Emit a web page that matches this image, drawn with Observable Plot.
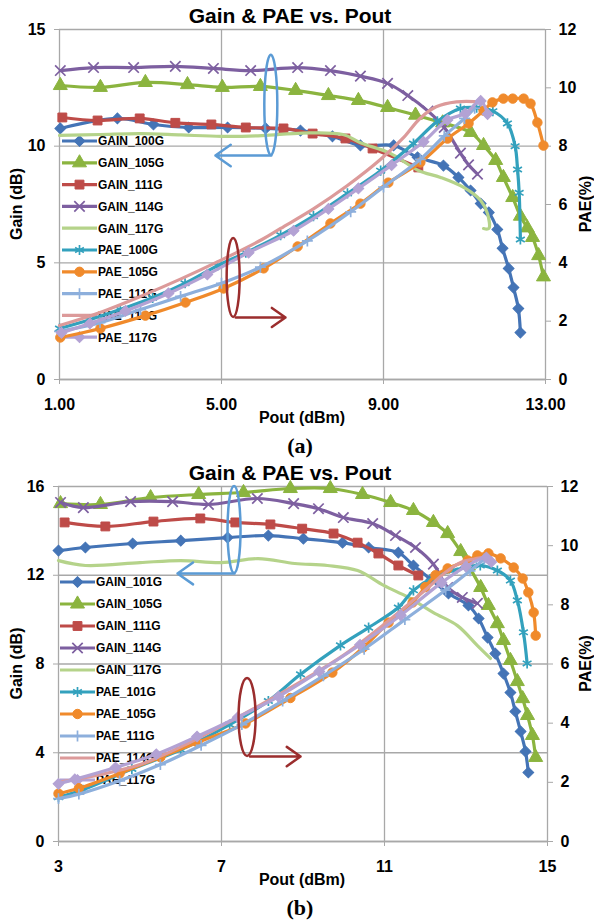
<!DOCTYPE html>
<html><head><meta charset="utf-8">
<script src="https://cdn.jsdelivr.net/npm/d3@7"></script>
<script src="https://cdn.jsdelivr.net/npm/@observablehq/plot@0.6"></script>
<style>
body{margin:0;background:#fff;}
#wrap{position:relative;width:594px;height:924px;}
#wrap svg{display:block;}
</style></head><body><div id="wrap"></div>
<script>
// ---------- Panel (a) data: [Pout dBm, value] ----------
const A_GAIN_100G = [[1.02,10.76],[2.43,11.19],[3.32,10.93],[4.19,10.8],[5.15,10.8],[6.09,10.76],[6.95,10.67],[7.74,10.42],[8.43,10.03],[9.25,10.03],[9.84,9.52],[10.48,9.17],[10.85,8.66],[11.15,8.1],[11.4,7.54],[11.6,7.16],[11.81,6.43],[11.94,5.62],[12.09,4.76],[12.21,3.94],[12.33,3.04],[12.38,2.01]];
const A_GAIN_105G = [[1.02,12.6],[2.01,12.52],[3.12,12.73],[4.16,12.64],[5.02,12.52],[5.96,12.56],[6.83,12.39],[7.64,12.17],[8.38,11.96],[9.1,11.66],[9.79,11.33],[10.46,11.0],[11.15,10.59],[11.47,10.03],[11.77,9.39],[11.96,8.66],[12.19,7.8],[12.38,7.0],[12.55,6.5],[12.68,6.09],[12.83,5.31],[12.95,4.4]];
const A_GAIN_111G = [[1.07,11.23],[1.94,11.1],[2.98,11.19],[3.86,11.0],[4.75,10.93],[5.6,10.8],[6.53,10.76],[7.25,10.54],[8.06,10.33],[8.73,9.9],[9.86,9.09]];
const A_GAIN_114G = [[1.02,13.24],[1.84,13.37],[2.83,13.37],[3.86,13.42],[4.8,13.33],[5.72,13.24],[6.88,13.37],[7.69,13.24],[8.43,13.0],[9.1,12.69],[9.6,12.17],[10.1,11.5],[10.5,10.8],[10.9,9.7],[11.1,9.2],[11.32,8.8]];
const A_GAIN_117G = [[1.0,10.46],[2.0,10.5],[3.0,10.54],[4.0,10.48],[5.0,10.42],[6.0,10.45],[7.0,10.56],[8.0,10.5],[8.43,10.15],[9.17,9.69],[9.86,8.96],[10.41,8.66],[10.98,8.23],[11.4,7.67],[11.57,7.1],[11.6,6.47],[11.47,6.47]];
const A_PAE_100G = [[1.0,1.75],[1.75,2.05],[2.5,2.4],[3.3,2.8],[4.1,3.3],[4.9,3.9],[5.6,4.35],[6.46,4.95],[7.27,5.6],[8.11,6.38],[8.93,7.16],[9.74,8.09],[10.33,8.85],[10.9,9.29],[11.3,9.32],[11.7,9.2],[12.06,8.78],[12.25,8.0],[12.31,7.2],[12.35,6.4],[12.38,4.8]];
const A_PAE_105G = [[1.02,1.44],[2.01,1.75],[3.12,2.19],[4.11,2.64],[5.05,3.12],[6.04,3.81],[6.88,4.56],[7.69,5.35],[8.43,6.03],[9.12,6.75],[9.91,7.44],[10.58,8.26],[11.1,8.78],[11.47,9.22],[11.69,9.5],[11.96,9.63],[12.19,9.63],[12.46,9.63],[12.63,9.46],[12.8,8.81],[12.95,8.02]];
const A_PAE_111G = [[1.0,1.65],[2.0,1.95],[3.0,2.4],[3.99,2.85],[5.0,3.3],[5.96,3.85],[7.12,4.75],[8.19,5.75],[9.0,6.6],[9.91,7.55],[10.5,8.35],[11.0,8.95],[11.25,9.3]];
const A_PAE_114G = [[1.0,1.85],[2.0,2.3],[3.0,2.85],[4.0,3.45],[5.0,4.1],[6.0,4.8],[6.46,5.18],[7.27,5.85],[8.11,6.65],[8.93,7.55],[9.5,8.3],[9.9,8.95],[10.3,9.35],[10.8,9.52],[11.4,9.52]];
const A_PAE_117G = [[1.05,1.6],[1.75,1.92],[2.63,2.35],[3.69,2.95],[4.65,3.6],[5.67,4.35],[6.78,5.1],[7.64,5.85],[8.38,6.55],[9.2,7.35],[9.99,8.15],[10.58,8.9],[11.02,9.12],[11.4,9.55],[11.57,9.1]];

// ---------- Panel (b) data ----------
const B_GAIN_101G = [[3.0,13.11],[3.66,13.25],[4.82,13.43],[6.0,13.56],[7.15,13.7],[8.15,13.79],[9.01,13.65],[9.97,13.47],[10.61,13.25],[11.34,13.02],[11.71,12.44],[12.15,11.8],[12.57,11.18],[13.06,10.64],[13.31,10.05],[13.53,9.19],[13.72,8.47],[13.92,7.57],[14.09,6.71],[14.21,5.86],[14.34,4.96],[14.46,4.06],[14.53,3.11]];
const B_GAIN_105G = [[3.05,15.23],[4.03,15.19],[5.26,15.5],[6.44,15.64],[7.54,15.73],[8.69,15.91],[9.67,15.91],[10.46,15.64],[11.15,15.28],[11.71,14.92],[12.2,14.38],[12.55,13.88],[12.87,13.07],[13.06,12.44],[13.36,11.45],[13.55,10.64],[13.77,9.82],[13.92,9.06],[14.09,8.16],[14.26,7.21],[14.39,6.44],[14.51,5.68],[14.63,4.78],[14.71,3.79]];
const B_GAIN_111G = [[3.15,14.38],[4.15,14.2],[5.33,14.42],[6.48,14.56],[7.34,14.38],[8.2,14.29],[8.98,14.1],[9.75,13.88],[10.34,13.47],[10.85,12.98],[11.34,12.44],[11.83,11.99]];
const B_GAIN_114G = [[3.05,15.28],[3.61,15.05],[4.77,15.32],[5.8,15.32],[6.68,15.19],[7.88,15.46],[8.77,15.23],[9.38,15.0],[9.99,14.6],[10.71,14.33],[11.27,13.79],[11.76,13.25],[12.2,12.5],[12.55,11.45],[12.91,11.0],[13.28,10.73]];
const B_GAIN_117G = [[3.0,12.66],[3.66,12.44],[5.0,12.57],[6.0,12.66],[7.0,12.57],[7.9,12.75],[8.8,12.53],[9.6,12.44],[10.34,12.21],[10.98,11.54],[11.59,11.0],[12.2,10.32],[12.79,9.73],[13.28,8.83],[13.6,8.25]];
const B_PAE_101G = [[3.0,1.5],[3.6,1.75],[4.8,2.45],[6.0,3.1],[7.2,3.95],[8.15,4.75],[8.94,5.65],[9.92,6.63],[10.61,7.23],[11.34,7.91],[11.71,8.49],[12.2,8.93],[12.69,9.16],[13.35,9.33],[13.77,9.16],[14.09,8.82],[14.26,8.15],[14.41,7.07],[14.5,6.02]];
const B_PAE_105G = [[3.0,1.62],[3.5,1.8],[4.5,2.3],[5.5,2.85],[6.41,3.35],[7.59,3.99],[8.69,4.85],[9.72,5.71],[10.48,6.56],[11.1,7.4],[11.69,8.08],[12.0,8.6],[12.25,9.0],[12.55,9.23],[13.04,9.5],[13.28,9.67],[13.55,9.74],[13.85,9.57],[14.17,9.26],[14.39,8.89],[14.53,8.42],[14.66,7.74],[14.71,6.96]];
const B_PAE_111G = [[3.0,1.45],[3.5,1.6],[4.5,2.05],[5.5,2.6],[6.5,3.25],[7.5,3.95],[8.5,4.75],[9.5,5.6],[10.5,6.5],[11.5,7.5],[12.5,8.5],[13.1,9.15],[13.45,9.55]];
const B_PAE_114G = [[3.0,2.0],[4.0,2.25],[5.0,2.6],[6.0,3.2],[7.0,3.9],[8.0,4.65],[9.0,5.45],[10.0,6.3],[11.0,7.35],[12.0,8.5],[12.5,9.1],[12.87,9.43],[13.2,9.55],[13.55,9.62]];
const B_PAE_117G = [[3.0,1.95],[3.4,2.1],[4.4,2.5],[5.4,2.95],[6.4,3.55],[7.4,4.2],[8.4,4.9],[9.4,5.75],[10.4,6.65],[11.4,7.65],[12.4,8.75],[13.0,9.3],[13.5,9.6],[13.62,9.45]];

// ---------- ticks / labels ----------
const A_X_TICKS = [1, 5, 9, 13];
const A_GAIN_TICKS = [0, 5, 10, 15];
const B_X_TICKS = [3, 7, 11, 15];
const B_GAIN_TICKS = [0, 4, 8, 12, 16];
const PAE_TICKS = [0, 2, 4, 6, 8, 10, 12];
const TITLE = "Gain & PAE vs. Pout";
const X_LABEL = "Pout (dBm)";
const Y_LABEL = "Gain (dB)";
const Y2_LABEL = "PAE(%)";

// series styles
const STYLE = [
  {color:"#4474B6", symbol:"square", rotate:45, r:4.3, filled:true},
  {color:"#8BB43F", symbol:"triangle", r:5.2, filled:true},
  {color:"#BE4B48", symbol:"square", r:5, filled:true},
  {color:"#7D5FA0", symbol:"times", r:4.8, filled:false},
  {color:"#B5D38A", symbol:null},
  {color:"#33A1BD", symbol:"asterisk", r:4.8, filled:false},
  {color:"#F08A2B", symbol:"circle", r:4.7, filled:true},
  {color:"#8DAFDC", symbol:"plus", r:3.6, filled:false},
  {color:"#DC9A9A", symbol:null},
  {color:"#B3A2D4", symbol:"square", rotate:45, r:4.3, filled:true}
];
const SYM = {square:d3.symbolSquare, triangle:d3.symbolTriangle, times:d3.symbolTimes, asterisk:d3.symbolAsterisk, circle:d3.symbolCircle, plus:d3.symbolPlus};
const FONT = "'Liberation Sans', Arial, sans-serif";
const GRID = "#a8a8a8";

function build(p) {
  const k = p.yMax / 12;
  const series = p.data.map((d, i) => ({...STYLE[i], name: p.names[i], data: d, pae: i >= 5}));
  const marks = [
    Plot.gridY(p.yTicks, {stroke: GRID, strokeOpacity: 1, strokeWidth: 1.3}),
    Plot.gridX(p.xTicks.slice(1, -1), {stroke: GRID, strokeOpacity: 1, strokeWidth: 1.3}),
    Plot.ruleX([p.xTicks[0], p.xTicks[p.xTicks.length - 1]], {stroke: GRID, strokeWidth: 1.3}),
    Plot.ruleY([0], {stroke: GRID, strokeWidth: 1.3}),
    Plot.axisY({anchor: "left", ticks: p.yTicks, tickSize: 5, tickPadding: 9, fontSize: 16, fontWeight: "bold", label: null, stroke: GRID}),
    Plot.axisY({anchor: "right", ticks: PAE_TICKS.map(v => v * k), tickFormat: d => String(Math.round(d / k)), tickSize: 5, tickPadding: 8, fontSize: 16, fontWeight: "bold", label: null, stroke: GRID}),
    Plot.axisX({ticks: p.xTicks, tickFormat: p.xFmt, tickSize: 5, tickPadding: 14, fontSize: 16, fontWeight: "bold", label: null, stroke: GRID})
  ];
  series.forEach(s => {
    const f = s.pae ? k : 1;
    const X = d => d[0], Y = d => d[1] * f;
    marks.push(Plot.line(s.data, {x: X, y: Y, stroke: s.color, strokeWidth: 3.2, curve: "catmull-rom"}));
    if (s.symbol) marks.push(Plot.dot(s.data, {x: X, y: Y, symbol: s.symbol, r: s.r, rotate: s.rotate || 0,
      fill: s.filled ? s.color : "none", stroke: s.color, strokeWidth: s.filled ? 1 : 1.7}));
  });
  marks.push(Plot.arrow(p.arrows, {x1: "x1", y1: "y1", x2: "x2", y2: "y2", stroke: "color", strokeWidth: 2.5, headLength: 12, headAngle: 70}));

  const chart = Plot.plot({
    width: 594, height: 462,
    marginTop: p.mt, marginBottom: p.mb, marginLeft: p.ml, marginRight: p.mr,
    x: {domain: [p.xTicks[0], p.xTicks[p.xTicks.length - 1]]},
    y: {domain: [0, p.yMax]},
    color: {type: "identity"},
    style: {fontFamily: FONT, color: "black", background: "white", overflow: "visible"},
    marks
  });
  const svg = d3.select(chart);
  const sx = chart.scale("x"), sy = chart.scale("y");

  // legend (beneath curves)
  const gL = svg.insert("g", 'g[aria-label="line"]').attr("font-family", FONT).attr("text-anchor", "start");
  series.forEach((s, i) => {
    const y = p.legY + i * p.legStep;
    gL.append("line").attr("x1", p.legX).attr("x2", p.legX + 35).attr("y1", y).attr("y2", y)
      .attr("stroke", s.color).attr("stroke-width", 3.2);
    if (s.symbol) gL.append("path").attr("d", d3.symbol(SYM[s.symbol], Math.PI * s.r * s.r)())
      .attr("transform", `translate(${p.legX + 17.5},${y}) rotate(${s.rotate || 0})`)
      .attr("fill", s.filled ? s.color : "none").attr("stroke", s.color).attr("stroke-width", s.filled ? 1 : 1.7);
    gL.append("text").attr("x", p.legX + 36).attr("y", y).attr("dy", "0.36em").attr("text-anchor", "start")
      .attr("font-size", 12).attr("font-weight", "bold").attr("fill", "#000").text(s.name);
  });

  // ellipses
  p.ellipses.forEach(e => {
    const a = sy.apply(e.y1), b = sy.apply(e.y2);
    svg.append("ellipse").attr("cx", sx.apply(e.x)).attr("cy", (a + b) / 2).attr("rx", e.rx).attr("ry", Math.abs(a - b) / 2)
      .attr("fill", "none").attr("stroke", e.color).attr("stroke-width", 2.5);
  });

  // texts
  const cy = (p.mt + 462 - p.mb) / 2;
  const t = (x, y, s, size, extra = {}) => {
    const n = svg.append("text").attr("x", x).attr("y", y).attr("dy", "0.36em").attr("text-anchor", "middle")
      .attr("font-family", extra.family || FONT).attr("font-size", size).attr("font-weight", "bold").attr("fill", "#000").text(s);
    if (extra.rotate) n.attr("transform", `rotate(${extra.rotate},${x},${y})`);
  };
  t(290, p.titleY, TITLE, 21);
  t(302, 462 - p.mb + 38, X_LABEL, 16);
  t(16, cy, Y_LABEL, 16, {rotate: -90});
  t(585, cy, Y2_LABEL, 16, {rotate: -90});
  t(300, p.tagY, p.tag, 22, {family: "'Liberation Serif', 'Times New Roman', serif"});
  return chart;
}

const wrap = document.getElementById("wrap");
wrap.appendChild(build({
  mt: 29, mb: 83, ml: 59, mr: 49, yMax: 15, xTicks: A_X_TICKS, yTicks: A_GAIN_TICKS, xFmt: d3.format(".2f"),
  names: ["GAIN_100G","GAIN_105G","GAIN_111G","GAIN_114G","GAIN_117G","PAE_100G","PAE_105G","PAE_111G","PAE_114G","PAE_117G"],
  data: [A_GAIN_100G, A_GAIN_105G, A_GAIN_111G, A_GAIN_114G, A_GAIN_117G, A_PAE_100G, A_PAE_105G, A_PAE_111G, A_PAE_114G, A_PAE_117G],
  legX: 62, legY: 141, legStep: 21.8,
  ellipses: [{x: 6.23, y1: 13.9, y2: 9.6, rx: 6.5, color: "#5B9BD5"}, {x: 5.3, y1: 6.04, y2: 2.66, rx: 6.5, color: "#9B2D2D"}],
  arrows: [{x1: 6.23, y1: 9.6, x2: 4.85, y2: 9.6, color: "#5B9BD5"}, {x1: 5.35, y1: 2.66, x2: 6.58, y2: 2.66, color: "#9B2D2D"}],
  titleY: 15, tag: "(a)", tagY: 445
}));
wrap.appendChild(build({
  mt: 24, mb: 83, ml: 58, mr: 47, yMax: 16, xTicks: B_X_TICKS, yTicks: B_GAIN_TICKS, xFmt: d3.format("d"),
  names: ["GAIN_101G","GAIN_105G","GAIN_111G","GAIN_114G","GAIN_117G","PAE_101G","PAE_105G","PAE_111G","PAE_114G","PAE_117G"],
  data: [B_GAIN_101G, B_GAIN_105G, B_GAIN_111G, B_GAIN_114G, B_GAIN_117G, B_PAE_101G, B_PAE_105G, B_PAE_111G, B_PAE_114G, B_PAE_117G],
  legX: 60, legY: 120, legStep: 22,
  ellipses: [{x: 7.32, y1: 16.0, y2: 12.08, rx: 6.5, color: "#5B9BD5"}, {x: 7.64, y1: 7.35, y2: 3.83, rx: 8.5, color: "#9B2D2D"}],
  arrows: [{x1: 7.32, y1: 12.08, x2: 5.92, y2: 12.08, color: "#5B9BD5"}, {x1: 7.7, y1: 3.83, x2: 8.94, y2: 3.83, color: "#9B2D2D"}],
  titleY: 10, tag: "(b)", tagY: 445
}));
</script></body></html>
